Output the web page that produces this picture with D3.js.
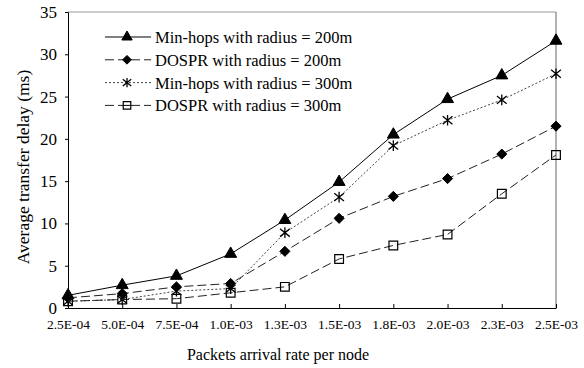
<!DOCTYPE html>
<html>
<head>
<meta charset="utf-8">
<script src="https://cdn.jsdelivr.net/npm/d3@7"></script>
<style>
  body { margin: 0; background: #fff; }
  svg text { font-family: "Liberation Serif", "DejaVu Serif", serif !important; fill: #000; }
</style>
</head>
<body>
<script>
// categories on the x axis
const rates = ["2.5E-04", "5.0E-04", "7.5E-04", "1.0E-03", "1.3E-03",
               "1.5E-03", "1.8E-03", "2.0E-03", "2.3E-03", "2.5E-03"];

// series values (ms)
const minHops200 = [1.5, 2.7, 3.8, 6.4, 10.4, 14.9, 20.5, 24.7, 27.5, 31.6];
const dospr200   = [1.2, 1.7, 2.5, 2.9, 6.7, 10.6, 13.2, 15.3, 18.2, 21.5];
const minHops300 = [0.8, 1.0, 2.0, 2.3, 8.9, 13.1, 19.2, 22.2, 24.6, 27.7];
const dospr300   = [0.8, 1.0, 1.1, 1.8, 2.5, 5.8, 7.4, 8.7, 13.5, 18.1];

const seriesNames = ["Min-hops with radius = 200m", "DOSPR with radius = 200m",
                     "Min-hops with radius = 300m", "DOSPR with radius = 300m"];

const yTicks = [0, 5, 10, 15, 20, 25, 30, 35];

const width = 584, height = 368;
const margin = {top: 12, right: 28, bottom: 60, left: 68};
const serif = "'Liberation Serif', 'DejaVu Serif', serif";

// star marker like the old spreadsheet one: an x with a vertical bar
const symbolStar = {
    draw(context, size) {
        const r = Math.sqrt(size) * 0.5;
        context.moveTo(-r, -r * 0.8); context.lineTo(r, r * 0.8);
        context.moveTo(-r, r * 0.8); context.lineTo(r, -r * 0.8);
        context.moveTo(0, -r * 1.1); context.lineTo(0, r * 1.1);
    }
};

// square diamond (d3's diamond is too tall)
const symbolRhomb = {
    draw(context, size) {
        const r = Math.sqrt(size) * 0.55;
        context.moveTo(0, -r);
        context.lineTo(r, 0);
        context.lineTo(0, r);
        context.lineTo(-r, 0);
        context.closePath();
    }
};

const styles = [
    {values: minHops200, dash: null,  stroke: "#000", symbol: d3.symbolTriangle, size: 62, fill: "#000", sw: 1},
    {values: dospr200,   dash: "9,4", stroke: "#222", symbol: symbolRhomb,       size: 84, fill: "#000", sw: 1},
    {values: minHops300, dash: "2,2", stroke: "#444", symbol: symbolStar,        size: 95, fill: "none", sw: 1.3},
    {values: dospr300,   dash: "9,4", stroke: "#222", symbol: d3.symbolSquare,   size: 76, fill: "none", sw: 1.2}
];

const svg = d3.select("body").append("svg")
    .attr("width", width)
    .attr("height", height);

svg.append("rect").attr("width", width).attr("height", height).attr("fill", "#fff");

const x = d3.scalePoint()
    .domain(rates)
    .range([margin.left, width - margin.right]);

const y = d3.scaleLinear()
    .domain([0, 35])
    .range([height - margin.bottom, margin.top]);

// frame: top and right are a lighter gray
svg.append("line")
    .attr("x1", margin.left).attr("x2", width - margin.right)
    .attr("y1", margin.top).attr("y2", margin.top)
    .attr("stroke", "#999");
svg.append("line")
    .attr("x1", width - margin.right).attr("x2", width - margin.right)
    .attr("y1", margin.top).attr("y2", height - margin.bottom)
    .attr("stroke", "#666");

// x axis, ticks pointing up into the plot
const xAxis = svg.append("g")
    .attr("transform", "translate(0," + (height - margin.bottom) + ")")
    .call(d3.axisBottom(x).tickSize(0).tickPadding(0));
xAxis.attr("font-family", serif);
xAxis.select(".domain").attr("stroke", "#000");
xAxis.selectAll(".tick line").attr("y2", -4).attr("stroke", "#000");
xAxis.selectAll(".tick text")
    .attr("y", 21)
    .attr("dy", 0)
    .attr("font-size", 13.5);

const yAxis = svg.append("g")
    .attr("transform", "translate(" + margin.left + ",0)")
    .call(d3.axisLeft(y).tickValues(yTicks).tickSize(3).tickPadding(8));
yAxis.attr("font-family", serif);
yAxis.select(".domain").attr("stroke", "#000");
yAxis.selectAll(".tick line").attr("stroke", "#000");
yAxis.selectAll(".tick text")
    .attr("font-size", 17);

// axis titles
svg.append("text")
    .attr("x", 278).attr("y", 360)
    .attr("text-anchor", "middle")
    .attr("font-family", serif)
    .attr("font-size", 16)
    .text("Packets arrival rate per node");

svg.append("text")
    .attr("transform", "translate(29,167) rotate(-90)")
    .attr("text-anchor", "middle")
    .attr("font-family", serif)
    .attr("font-size", 17.5)
    .text("Average transfer delay (ms)");

// lines + markers
const line = d3.line()
    .x((d, i) => x(rates[i]))
    .y(d => y(d));

styles.forEach(s => {
    svg.append("path")
        .datum(s.values)
        .attr("d", line)
        .attr("fill", "none")
        .attr("stroke", s.stroke)
        .attr("stroke-width", 1)
        .attr("stroke-dasharray", s.dash);

    svg.selectAll(null)
        .data(s.values)
        .enter()
        .append("path")
        .attr("d", d3.symbol().type(s.symbol).size(s.size))
        .attr("transform", (d, i) => "translate(" + x(rates[i]) + "," + y(d) + ")")
        .attr("fill", s.fill)
        .attr("stroke", "#000")
        .attr("stroke-width", s.sw);
});

// legend
const legend = svg.append("g").attr("transform", "translate(105,37)");
seriesNames.forEach((name, i) => {
    const s = styles[i];
    const row = legend.append("g").attr("transform", "translate(0," + (i * 22.8) + ")");
    row.append("line")
        .attr("x1", 0).attr("x2", 46)
        .attr("stroke", s.stroke)
        .attr("stroke-dasharray", s.dash);
    row.append("path")
        .attr("d", d3.symbol().type(s.symbol).size(s.size * 0.75))
        .attr("transform", "translate(22,0)")
        .attr("fill", s.fill === "none" ? "#fff" : s.fill)
        .attr("stroke", "#000")
        .attr("stroke-width", s.sw);
    if (i === 3) {
        row.append("line").attr("x1", 18).attr("x2", 26).attr("stroke", "#000");
    }
    row.append("text")
        .attr("x", 50).attr("y", 6)
        .attr("font-family", serif)
        .attr("font-size", 16.5)
        .text(name);
});
</script>
</body>
</html>
